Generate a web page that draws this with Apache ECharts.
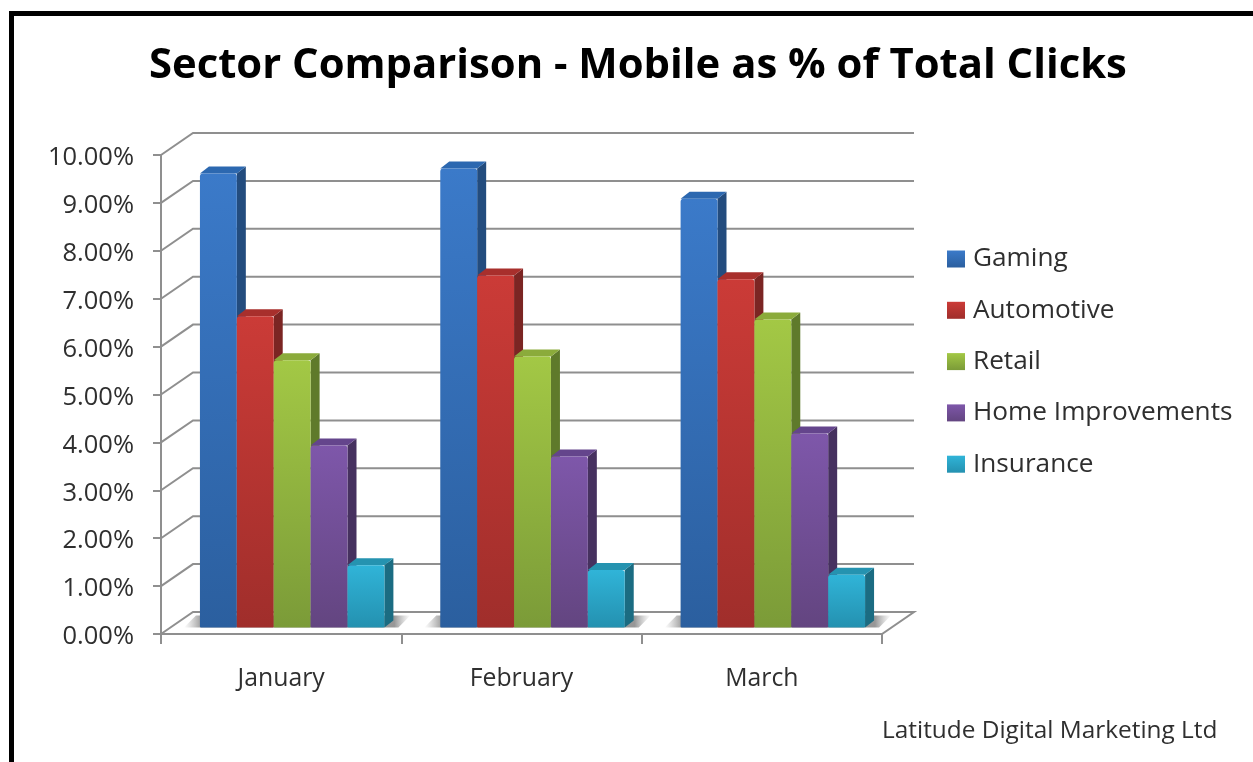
<!DOCTYPE html>
<html>
<head>
<meta charset="utf-8">
<style>html,body{margin:0;padding:0;background:#fff;overflow:hidden}#c{width:1253px;height:762px}</style>
<script src="https://cdn.jsdelivr.net/npm/echarts@6/dist/echarts.min.js"></script>
</head>
<body>
<div id="c"></div>
<script>
var categories = ['January', 'February', 'March'];
var gaming = [9.48, 9.58, 8.95];
var automotive = [6.5, 7.35, 7.27];
var retail = [5.58, 5.66, 6.43];
var homeImprovements = [3.8, 3.57, 4.05];
var insurance = [1.3, 1.2, 1.1];
var wallTicks = [1, 2, 3, 4, 5, 6, 7, 8, 9, 10];
var seriesNames = ['Gaming', 'Automotive', 'Retail', 'Home Improvements', 'Insurance'];
var seriesValues = [gaming, automotive, retail, homeImprovements, insurance];
var faceColors = [
  ['#3b7ac9', '#2b5f9f', '#234c7e', '#2c68b0'],
  ['#cb3b37', '#a02e2b', '#7b2523', '#a82f2c'],
  ['#a3c845', '#7b9b38', '#5f7a2b', '#8bab3b'],
  ['#7e57aa', '#634580', '#46315f', '#64458c'],
  ['#30b4d8', '#2491b0', '#1b6c82', '#2593b0']
];
var axisGrey = '#8f8f8f';
var textColor = '#2f2f2f';
var sansFont = '"Open Sans"';
var wallDX = 32, wallDY = -22, barDX = 11, barDY = -6.5, sideDX = 9, sideDY = -7, barRatio = 0.1535;

function vGrad(a, b) {
  return new echarts.graphic.LinearGradient(0, 0, 0, 1, [{offset: 0, color: a}, {offset: 1, color: b}]);
}

function renderWall(params, api) {
  var cs = params.coordSys;
  var y = api.coord([0, api.value(1)])[1];
  var x0 = cs.x, x1 = cs.x + cs.width;
  return {
    type: 'polyline',
    shape: {points: [[x0, y], [x0 + wallDX, y + wallDY], [x1 + wallDX, y + wallDY]]},
    style: {stroke: axisGrey, lineWidth: 2, fill: null},
    silent: true
  };
}

function renderFloor(params, api) {
  var cs = params.coordSys;
  var y = api.coord([0, 0])[1];
  var x0 = cs.x, x1 = cs.x + cs.width;
  return {
    type: 'polygon',
    shape: {points: [[x0, y], [x0 + wallDX, y + wallDY], [x1 + wallDX, y + wallDY], [x1, y]]},
    style: {stroke: axisGrey, lineWidth: 2, fill: '#fff'},
    silent: true
  };
}

function renderShadow(params, api) {
  var c = api.coord([api.value(0), 0]);
  var band = api.size([1, 0])[0];
  var w = band * barRatio;
  var cx = c[0] + barDX;
  var left = cx - 2.5 * w - 16, right = cx + 2.5 * w + 26;
  var top = c[1] + barDY - 12, bot = c[1] + barDY;
  var total = right - left;
  return {
    type: 'polygon',
    shape: {points: [[left + 12, top], [right, top], [right - 12, bot], [left, bot]]},
    style: {
      fill: new echarts.graphic.LinearGradient(0, 0, 1, 0, [
        {offset: 0, color: 'rgba(170,170,170,0)'},
        {offset: 18 / total, color: 'rgba(140,140,140,0.9)'},
        {offset: (total - 16) / total, color: 'rgba(140,140,140,0.9)'},
        {offset: 1, color: 'rgba(170,170,170,0)'}
      ])
    },
    silent: true
  };
}

function makeBarRenderer(si) {
  return function (params, api) {
    var cat = api.value(0), val = api.value(1);
    var base = api.coord([cat, 0]);
    var topPt = api.coord([cat, val]);
    var band = api.size([1, 0])[0];
    var w = band * barRatio;
    var x = base[0] + barDX + (si - 2.5) * w;
    var yBot = base[1] + barDY, yTop = topPt[1] + barDY;
    var col = faceColors[si];
    return {
      type: 'group',
      children: [
        {type: 'polygon', shape: {points: [[x + w, yTop], [x + w + sideDX, yTop + sideDY], [x + w + sideDX, yBot + sideDY], [x + w, yBot]]},
          style: {fill: col[2]}},
        {type: 'polygon', shape: {points: [[x, yTop], [x + sideDX, yTop + sideDY], [x + w + sideDX, yTop + sideDY], [x + w, yTop]]},
          style: {fill: col[3]}},
        {type: 'rect', shape: {x: x, y: yTop, width: w, height: yBot - yTop, r: [3, 3, 1, 1]},
          style: {fill: vGrad(col[0], col[1])}}
      ]
    };
  };
}

var series = [
  {type: 'custom', name: 'floor', coordinateSystem: 'cartesian2d', renderItem: renderFloor, data: [[0, 0]], encode: {x: 0, y: 1}, z: 1, silent: true},
  {type: 'custom', name: 'wall', coordinateSystem: 'cartesian2d', renderItem: renderWall,
    data: wallTicks.map(function (t) { return [0, t]; }), encode: {x: 0, y: 1}, z: 1, silent: true},
  {type: 'custom', name: 'shadow', coordinateSystem: 'cartesian2d', renderItem: renderShadow,
    data: categories.map(function (c, i) { return [i, 0]; }), encode: {x: 0, y: 1}, z: 2, silent: true}
];
seriesNames.forEach(function (n, si) {
  series.push({
    type: 'custom', name: n, coordinateSystem: 'cartesian2d', renderItem: makeBarRenderer(si), z: 3,
    encode: {x: 0, y: 1},
    itemStyle: {color: vGrad(faceColors[si][0], faceColors[si][1])},
    data: seriesValues[si].map(function (v, i) { return [i, v]; })
  });
});

var chart = echarts.init(document.getElementById('c'), null, {renderer: 'canvas'});
chart.setOption({
  animation: false,
  backgroundColor: '#fff',
  title: [
    {text: 'Sector Comparison - Mobile as % of Total Clicks', left: 144, top: 40,
      textStyle: {fontFamily: sansFont, fontWeight: 'bold', fontSize: 41.8, color: '#000'}},
    {text: 'Latitude Digital Marketing Ltd', left: 877, top: 714,
      textStyle: {fontFamily: sansFont, fontWeight: 'normal', fontSize: 24.4, color: textColor}}
  ],
  grid: {left: 161, right: 371, top: 155, bottom: 128},
  legend: {
    data: seriesNames, orient: 'vertical', left: 942, top: 241, icon: 'rect',
    itemWidth: 18, itemHeight: 17, itemGap: 25.3,
    textStyle: {fontFamily: sansFont, fontSize: 26.2, color: textColor, lineHeight: 24, padding: [0, 0, 0, 3]}
  },
  xAxis: {
    type: 'category', data: categories, boundaryGap: true,
    axisLine: {show: true, lineStyle: {color: axisGrey, width: 2}},
    axisTick: {show: true, length: 10, alignWithLabel: false, lineStyle: {color: axisGrey, width: 2}},
    axisLabel: {color: textColor, fontFamily: sansFont, fontSize: 24.8, margin: 32},
    splitLine: {show: false}
  },
  yAxis: {
    type: 'value', min: 0, max: 10, interval: 1,
    axisLine: {show: true, lineStyle: {color: axisGrey, width: 2}},
    axisTick: {show: true, length: 8, lineStyle: {color: axisGrey, width: 2}},
    axisLabel: {color: textColor, fontFamily: sansFont, fontSize: 25.5, margin: 27, verticalAlign: 'top', lineHeight: 6,
      formatter: function (v) { return v.toFixed(2) + '%'; }},
    splitLine: {show: false}
  },
  graphic: [
    {type: 'rect', silent: true, shape: {x: 9, y: 11, width: 5, height: 751}, style: {fill: '#000'}},
    {type: 'rect', silent: true, shape: {x: 9, y: 11, width: 1244, height: 5}, style: {fill: '#000'}}
  ],
  series: series
});
</script>
</body>
</html>
